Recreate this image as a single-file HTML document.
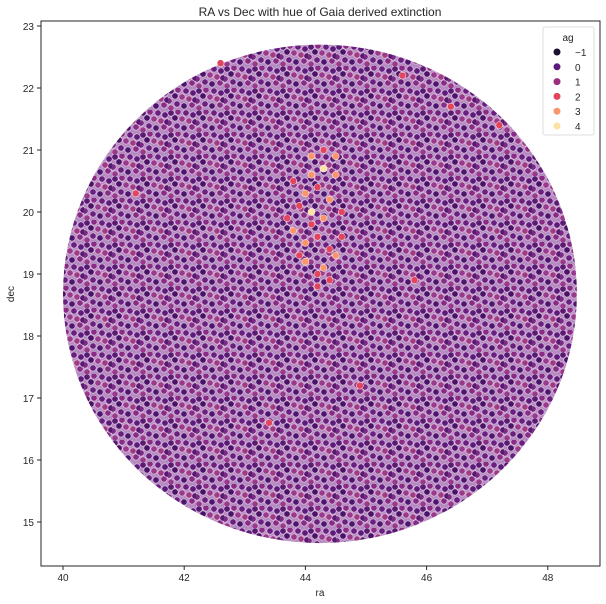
<!DOCTYPE html>
<html><head><meta charset="utf-8"><style>
html,body{margin:0;padding:0;background:#fff;width:606px;height:604px;overflow:hidden}
text{font-family:"Liberation Sans","DejaVu Sans",sans-serif;fill:#262626}
</style></head><body>
<svg id="chart" width="606" height="604" xmlns="http://www.w3.org/2000/svg">
<defs>
<pattern id="speck" width="28" height="22" patternUnits="userSpaceOnUse">
<rect width="28" height="22" fill="#b48ac0"/>
<circle cx="3" cy="3" r="3.2" fill="#5a1a72" stroke="#e6cfe8" stroke-width="0.6"/>
<circle cx="10" cy="2" r="3.2" fill="#8a2c86" stroke="#e6cfe8" stroke-width="0.6"/>
<circle cx="7" cy="8" r="3.2" fill="#4a1268" stroke="#e6cfe8" stroke-width="0.6"/>
<circle cx="14" cy="9" r="3.2" fill="#9a3a8c" stroke="#e6cfe8" stroke-width="0.6"/>
<circle cx="1" cy="13" r="3.2" fill="#7a2a84" stroke="#e6cfe8" stroke-width="0.6"/>
<circle cx="18" cy="3" r="3.2" fill="#6a2080" stroke="#e6cfe8" stroke-width="0.6"/>
<circle cx="25" cy="5" r="3.2" fill="#5c1a7a" stroke="#e6cfe8" stroke-width="0.6"/>
<circle cx="21" cy="11" r="3.2" fill="#a03a84" stroke="#e6cfe8" stroke-width="0.6"/>
<circle cx="9" cy="16" r="3.2" fill="#6a2080" stroke="#e6cfe8" stroke-width="0.6"/>
<circle cx="16" cy="18" r="3.2" fill="#4e1670" stroke="#e6cfe8" stroke-width="0.6"/>
<circle cx="24" cy="17" r="3.2" fill="#8a2c86" stroke="#e6cfe8" stroke-width="0.6"/>
<circle cx="3" cy="20" r="3.2" fill="#9a3a8c" stroke="#e6cfe8" stroke-width="0.6"/>
<circle cx="27" cy="12" r="3.2" fill="#5a1a72" stroke="#e6cfe8" stroke-width="0.6"/>
</pattern>
</defs>
<text x="320" y="16" font-size="12" text-anchor="middle">RA vs Dec with hue of Gaia derived extinction</text>
<g id="plot"></g>
<rect x="41" y="21" width="559" height="545" fill="none" stroke="#262626" stroke-width="1"/>
<g id="axes"></g>
<text x="320" y="596" font-size="10" text-anchor="middle">ra</text>
<text transform="translate(14,294) rotate(-90)" font-size="10" text-anchor="middle">dec</text>
<g id="legend"></g>
</svg>
<script>
const xTicks=[40,42,44,46,48];
const yTicks=[15,16,17,18,19,20,21,22,23];
const footprintCenter=[44.24,18.68];
const footprintRadius=[4.24,4.02];
const redRa=[44.1,44.3,44.5,44.2,44.0,43.9,44.4,44.6,44.3,44.1,43.8,44.2,44.0,44.4,43.9,44.5,44.3,44.2,44.6,43.7,44.1,44.0,44.4,44.2,43.8,44.3,44.5,44.1,46.4,45.6,42.6,44.9,41.2,45.8,43.4,47.2];
const redDec=[20.9,20.7,20.6,20.4,20.3,20.1,20.2,20.0,19.9,19.8,19.7,19.6,19.5,19.4,19.3,19.3,19.1,19.0,19.6,19.9,20.6,19.2,18.9,18.8,20.5,21.0,20.9,20.0,21.7,22.2,22.4,17.2,20.3,18.9,16.6,21.4];
const redAg=[3,4,3,2,3,2,3,2,3,2,3,2,3,2,2,3,3,2,2,2,3,3,2,2,2,2,3,4,2,2,2,2,2,2,2,2];
const legendLabels=["\u22121","0","1","2","3","4"];
const palette=["#1a1030","#5c1a7a","#9c2e7f","#e0475f","#f9956b","#fde2a4"];
const NS="http://www.w3.org/2000/svg";
const X0=41,X1=600,Y0=21,Y1=566;
const xs=ra=>63+(ra-40)*60.6;
const ys=d=>522-(d-15)*62;
function mk(tag,attrs,parent){const e=document.createElementNS(NS,tag);for(const k in attrs)e.setAttribute(k,attrs[k]);parent.appendChild(e);return e;}
const plot=document.getElementById('plot'),axes=document.getElementById('axes'),leg=document.getElementById('legend');
const disk=mk('ellipse',{cx:xs(footprintCenter[0]),cy:ys(footprintCenter[1]),rx:footprintRadius[0]*60.6,ry:footprintRadius[1]*62,fill:'url(#speck)'},plot);


const col=a=>palette[Math.max(0,Math.min(5,Math.round(a)+1))];
redRa.forEach((r,i)=>{
 const c=mk('circle',{cx:xs(r),cy:ys(redDec[i]),r:3.5,fill:col(redAg[i]),stroke:'#fff','stroke-width':0.5},plot);
 
 
});
xTicks.forEach(t=>{
 const x=xs(t);
 mk('line',{x1:x,x2:x,y1:Y1,y2:Y1+4,stroke:'#262626'},axes);
 const tx=mk('text',{x:x,y:Y1+15,'font-size':10,'text-anchor':'middle'},axes);tx.textContent=t;
 
 
});
yTicks.forEach(t=>{
 const y=ys(t);
 mk('line',{x1:X0-4,x2:X0,y1:y,y2:y,stroke:'#262626'},axes);
 const tx=mk('text',{x:X0-7,y:y+4,'font-size':10,'text-anchor':'end'},axes);tx.textContent=t;
 
 
});
const box=mk('rect',{x:543,y:27,width:51,height:108,rx:2,fill:'#fff','fill-opacity':0.85,stroke:'#ddd'},leg);


const lt=mk('text',{x:568,y:41,'font-size':10,'text-anchor':'middle'},leg);lt.textContent='ag';


legendLabels.forEach((l,i)=>{
 const y=52+i*14.8;
 const m=mk('circle',{cx:557,cy:y,r:3.5,fill:palette[i]},leg);
 
 
 const t=mk('text',{x:575,y:y+4,'font-size':10},leg);t.textContent=l;
 
 
});
</script>
</body></html>
